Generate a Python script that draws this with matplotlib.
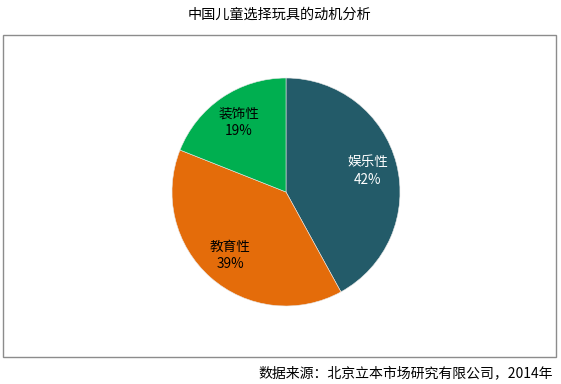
import matplotlib
matplotlib.use("Agg")
import matplotlib.pyplot as plt
from matplotlib.patches import Rectangle

plt.rcParams['font.family'] = ['Noto Sans CJK SC', 'DejaVu Sans']

# Data
categories = ["娱乐性", "教育性", "装饰性"]
shares = [42, 39, 19]
colors = ["#235B69", "#E46C0A", "#00AF50"]
text_colors = ["white", "black", "black"]
title = "中国儿童选择玩具的动机分析"
source = "数据来源：北京立本市场研究有限公司，2014年"

W, H = 561, 384
fig = plt.figure(figsize=(W / 100, H / 100), dpi=100)

# outer frame
fig.patches.append(Rectangle((3 / W, 1 - 357 / H), 553 / W, 322 / H,
                             transform=fig.transFigure, fill=False,
                             edgecolor="#8C8C8C", linewidth=1.0))

fig.text(279 / W, 1 - 15 / H, title, ha="center", va="center", fontsize=10.2)
fig.text(553 / W, 1 - 373 / H, source, ha="right", va="center", fontsize=10)

# pie axes
cx, cy, r = 286, 192, 114
ax = fig.add_axes([(cx - r) / W, 1 - (cy + r) / H, 2 * r / W, 2 * r / H])
wedges, texts, autotexts = ax.pie(
    shares, colors=colors, startangle=90, counterclock=False,
    autopct=lambda p: "", pctdistance=0.74, radius=1,
    wedgeprops=dict(linewidth=0.4, edgecolor="#E8E8E8"))
for t, name, val, tc in zip(autotexts, categories, shares, text_colors):
    t.set_text(f"{name}\n{val}%")
    t.set_color(tc)
    t.set_fontsize(9.8)
    t.set_linespacing(1.3)
ax.set_xlim(-1, 1)
ax.set_ylim(-1, 1)
ax.set_aspect("equal")
ax.axis("off")

fig.savefig("out.png", dpi=100)
